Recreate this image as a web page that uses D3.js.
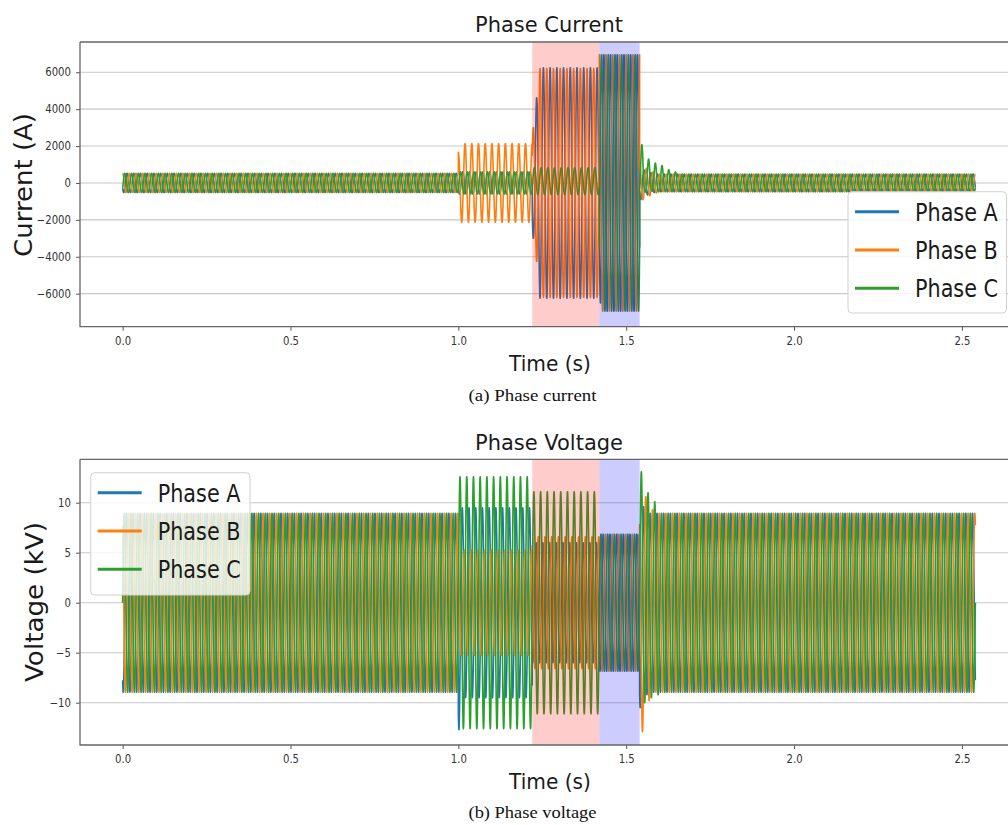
<!DOCTYPE html>
<html><head><meta charset="utf-8">
<script src="https://cdn.jsdelivr.net/npm/d3@7"></script>
<style>body{margin:0;background:#fff} svg{display:block}</style>
</head><body>
<svg id="chart" width="1008" height="825"></svg>
<script>
// ---------------- data ----------------
const FREQ = 50;                 // Hz
const T_END = 2.54;              // s, last sample
const segStart = [0, 1.0, 1.22, 1.42, 1.54];   // segment start times (s)
const shadeFault2 = [1.22, 1.42];
const shadeFault3 = [1.42, 1.54];
const phaseNames = ["Phase A", "Phase B", "Phase C"];
const phaseColors = ["#1f77b4", "#ff7f0e", "#2ca02c"];
const xTicks = [0, 0.5, 1.0, 1.5, 2.0, 2.5];
const currentTicks = [-6000, -4000, -2000, 0, 2000, 4000, 6000];
const voltageTicks = [-10, -5, 0, 5, 10];

// phase current: peak amplitude (A) per segment
const currentAmpA = [520, 600, 6250, 6950, 480];
const currentAmpB = [520, 2130, 6200, 6950, 480];
const currentAmpC = [520, 600, 730, 6950, 480];
const currentOffA = [0, 0, 0, 0, 0];
const currentOffB = [0, 0, 0, 0, 0];
const currentOffC = [0, 0, 100, 0, 0];
const currentPhaseA = [210, 210, 210, 210, 210];
const currentPhaseB = [90, 90, 30, 90, 90];
const currentPhaseC = [330, 330, 330, 330, 330];
// half-cycle peaks right after each segment start
const currentKickA = [[], [], [3000, 4620], [6500], [900, 700, 650, 560, 520]];
const currentKickB = [[], [1660], [3000, 4250], [], [820, 900, 800, 700, 600, 540]];
const currentKickC = [[], [], [], [], [700, 2075, 500, 1300, 450, 1080, 480, 940, 480, 720, 480, 600]];

// phase voltage: peak amplitude (kV) per segment
const voltageAmpA = [8.95, 9.5, 6.0, 6.85, 8.95];
const voltageAmpB = [8.95, 5.25, 6.6, 6.85, 8.95];
const voltageAmpC = [8.95, 12.6, 11.1, 6.85, 8.95];
const voltageOff = [0, 0, 0, 0, 0];
const voltagePhaseA = [240, 240, 240, 240, 240];
const voltagePhaseB = [120, 120, 120, 120, 120];
const voltagePhaseC = [0, 0, 0, 0, 0];
const voltageKickA = [[], [12.7], [], [], [10.5, 9.6, 9.2]];
const voltageKickB = [[], [], [], [], [9.0, 12.9, 10.6, 9.8, 9.3]];
const voltageKickC = [[], [], [], [], [13.1, 10.0, 11.0, 9.5, 10.1, 9.2]];

// ---------------- build ----------------
const SAMPLES = 80; // per cycle
function buildSeries(amp, ph, off, kick) {
  const pts = [];
  const n = Math.round(T_END * FREQ * SAMPLES);
  const times = [];
  for (let i = 0; i <= n; i++) times.push(i * T_END / n);
  segStart.slice(1).forEach(s => { times.push(s - 1e-7); times.push(s + 1e-7); });
  times.sort((a, b) => a - b);
  for (const t of times) {
    let s = segStart.length - 1;
    while (s > 0 && t < segStart[s]) s--;
    const phase = 360 * FREQ * t + ph[s];
    const h = Math.floor(phase / 180 + 1e-9) - Math.floor((360 * FREQ * segStart[s] + ph[s]) / 180 + 1e-9);
    const a = h < kick[s].length ? kick[s][h] : amp[s];
    pts.push([t, a * Math.sin(phase * Math.PI / 180) + off[s]]);
  }
  return pts;
}

const svg = d3.select("#chart");
const FONT = "DejaVu Sans, Verdana, sans-serif";

function squeeze(sel, f) {
  sel.each(function () {
    const L = this.getComputedTextLength();
    d3.select(this).attr("textLength", L * f).attr("lengthAdjust", "spacingAndGlyphs");
  });
}

function panel(cfg) {
  const g = svg.append("g");
  const x = d3.scaleLinear().domain([-0.127, 2.667]).range([80, 1018]);
  const y = d3.scaleLinear().domain(cfg.yDomain).range([cfg.bottom, cfg.top]);
  const clipId = "clip" + cfg.id;
  svg.append("clipPath").attr("id", clipId).append("rect")
    .attr("x", 80).attr("y", cfg.top).attr("width", 938).attr("height", cfg.bottom - cfg.top);

  // grid
  g.append("g").selectAll("line").data(cfg.yTicks).join("line")
    .attr("x1", 80).attr("x2", 1018).attr("y1", d => y(d)).attr("y2", d => y(d))
    .attr("stroke", "#c8c8c8").attr("stroke-width", 1.1);

  // lines
  const line = d3.line().x(d => x(d[0])).y(d => y(d[1]));
  const lg = g.append("g").attr("clip-path", `url(#${clipId})`);
  cfg.series.forEach((s, i) => {
    lg.append("path").datum(s).attr("d", line).attr("fill", "none")
      .attr("stroke", phaseColors[i]).attr("stroke-width", 1.6).attr("stroke-linejoin", "round");
  });

  // shading
  g.append("rect").attr("x", x(shadeFault2[0])).attr("width", x(shadeFault2[1]) - x(shadeFault2[0]))
    .attr("y", cfg.top).attr("height", cfg.bottom - cfg.top).attr("fill", "#ff0000").attr("fill-opacity", 0.2);
  g.append("rect").attr("x", x(shadeFault3[0])).attr("width", x(shadeFault3[1]) - x(shadeFault3[0]))
    .attr("y", cfg.top).attr("height", cfg.bottom - cfg.top).attr("fill", "#0000ff").attr("fill-opacity", 0.2);

  // axes
  const ax = g.append("g").attr("transform", `translate(0,${cfg.bottom})`)
    .call(d3.axisBottom(x).tickValues(xTicks).tickFormat(d3.format(".1f")).tickSize(4).tickPadding(6));
  const ay = g.append("g").attr("transform", `translate(80,0)`)
    .call(d3.axisLeft(y).tickValues(cfg.yTicks).tickFormat(d3.format("d")).tickSize(4).tickPadding(5));
  [ax, ay].forEach(a => {
    a.select(".domain").remove();
    a.selectAll(".tick line").attr("stroke", "#555");
    a.selectAll("text").attr("font-family", FONT).attr("font-size", 11.5).attr("fill", "#333");
    squeeze(a.selectAll("text"), 0.88);
  });

  // spines
  g.append("path").attr("d", `M80,${cfg.top}H1018M80,${cfg.top}V${cfg.bottom}H1018`)
    .attr("fill", "none").attr("stroke", "#666").attr("stroke-width", 1.3);

  // texts
  g.append("text").attr("x", 549).attr("y", cfg.top - 9.7).attr("text-anchor", "middle")
    .attr("font-family", FONT).attr("font-size", 21.5).attr("fill", "#1a1a1a")
    .attr("textLength", 148).attr("lengthAdjust", "spacingAndGlyphs").text(cfg.title);
  g.append("text").attr("transform", `translate(${cfg.ylabX},${cfg.ylabY}) rotate(-90)`)
    .attr("text-anchor", "middle").attr("font-family", FONT).attr("font-size", 25).attr("fill", "#1a1a1a")
    .attr("textLength", cfg.ylabLen).attr("lengthAdjust", "spacingAndGlyphs").text(cfg.ylabel);
  g.append("text").attr("x", 550).attr("y", cfg.bottom + 44).attr("text-anchor", "middle")
    .attr("font-family", FONT).attr("font-size", 21.5).attr("fill", "#1a1a1a")
    .attr("textLength", 82).attr("lengthAdjust", "spacingAndGlyphs").text("Time (s)");
  g.append("text").attr("x", 532.5).attr("y", cfg.capY).attr("text-anchor", "middle")
    .attr("font-family", "Liberation Serif, Times New Roman, serif").attr("font-size", 17).attr("fill", "#111")
    .attr("textLength", 128).attr("lengthAdjust", "spacingAndGlyphs").text(cfg.caption);

  // legend
  const L = cfg.legend;
  const lgd = g.append("g");
  lgd.append("rect").attr("x", L.x).attr("y", L.y).attr("width", L.w).attr("height", L.h)
    .attr("rx", 4).attr("fill", "#fff").attr("fill-opacity", 0.8).attr("stroke", "#d0d0d0").attr("stroke-width", 1);
  phaseNames.forEach((nm, i) => {
    const cy = L.y + 20 + i * 38.3;
    lgd.append("line").attr("x1", L.x + 7).attr("x2", L.x + 51).attr("y1", cy).attr("y2", cy)
      .attr("stroke", phaseColors[i]).attr("stroke-width", 3);
    lgd.append("text").attr("transform", `translate(${L.x + 67},${cy + 9}) scale(0.865,1)`)
      .attr("font-family", FONT).attr("font-size", 24).attr("fill", "#1a1a1a").text(nm);
  });
}

panel({
  id: "I", top: 42, bottom: 326.7, yDomain: [-7790, 7640], yTicks: currentTicks,
  series: [
    buildSeries(currentAmpA, currentPhaseA, currentOffA, currentKickA),
    buildSeries(currentAmpB, currentPhaseB, currentOffB, currentKickB),
    buildSeries(currentAmpC, currentPhaseC, currentOffC, currentKickC)
  ],
  title: "Phase Current", ylabel: "Current (A)", ylabX: 31.5, ylabY: 185, ylabLen: 144,
  caption: "(a) Phase current", capY: 401,
  legend: { x: 848, y: 191.7, w: 158.5, h: 121.3 }
});

panel({
  id: "V", top: 459.3, bottom: 745, yDomain: [-14.23, 14.34], yTicks: voltageTicks,
  series: [
    buildSeries(voltageAmpA, voltagePhaseA, voltageOff, voltageKickA),
    buildSeries(voltageAmpB, voltagePhaseB, voltageOff, voltageKickB),
    buildSeries(voltageAmpC, voltagePhaseC, voltageOff, voltageKickC)
  ],
  title: "Phase Voltage", ylabel: "Voltage (kV)", ylabX: 43, ylabY: 602, ylabLen: 160,
  caption: "(b) Phase voltage", capY: 818,
  legend: { x: 90.7, y: 472.7, w: 159.3, h: 122.3 }
});
</script>
</body></html>
